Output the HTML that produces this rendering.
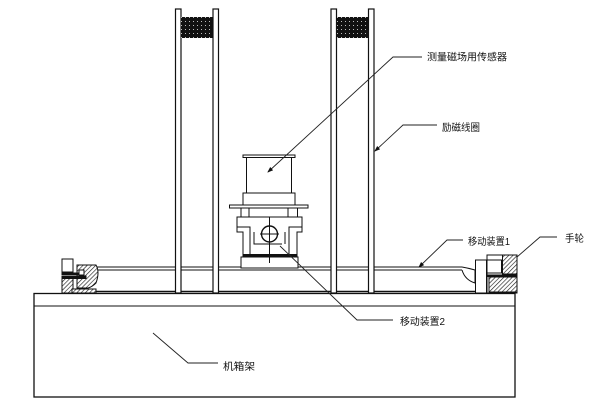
<!DOCTYPE html>
<html><head><meta charset="utf-8"><style>
html,body{margin:0;padding:0;background:#fff;}
svg{display:block;}
text{font-family:"Liberation Sans","Noto Sans CJK SC",sans-serif;fill:#111;}
</style></head><body>
<svg width="600" height="406" viewBox="0 0 600 406" xmlns="http://www.w3.org/2000/svg">
<defs>
<pattern id="hatch" width="3" height="3" patternUnits="userSpaceOnUse" patternTransform="rotate(45)">
<rect width="3" height="3" fill="#fff"/><line x1="0" y1="0" x2="0" y2="3" stroke="#222" stroke-width="1.3"/>
</pattern>
<pattern id="dots" width="4" height="4" patternUnits="userSpaceOnUse">
<rect width="4" height="4" fill="#111"/><rect x="1" y="1" width="1" height="1" fill="#bbb"/>
</pattern>
<marker id="ar" markerWidth="6" markerHeight="6" refX="1" refY="3" orient="auto" markerUnits="userSpaceOnUse">
<path d="M0,3 L6,0.8 L6,5.2 Z" fill="#111"/>
</marker>
</defs>
<g fill="none" stroke="#111" stroke-width="1">
<!-- base -->
<rect x="34" y="293.5" width="481" height="103.5" stroke-width="1.3"/>
<line x1="34" y1="306" x2="515" y2="306"/>
<!-- rails -->
<line x1="88" y1="267" x2="462" y2="267"/>
<line x1="88" y1="270" x2="462" y2="270"/>
<line x1="88" y1="291.5" x2="480" y2="291.5" stroke-width="1.5"/>
</g>
<!-- columns -->
<g fill="#fff" stroke="#111" stroke-width="1.2">
<rect x="175.5" y="9" width="5.5" height="284"/>
<rect x="213" y="9" width="5.5" height="284"/>
<rect x="331" y="9" width="5.5" height="284"/>
<rect x="368.5" y="9" width="5.5" height="284"/>
</g>
<rect x="181" y="17" width="32" height="21" fill="url(#dots)"/>
<rect x="336.5" y="17" width="32" height="21" fill="url(#dots)"/>
<!-- device -->
<g fill="#fff" stroke="#111" stroke-width="1">
<rect x="241" y="257" width="57" height="11"/>
<rect x="243" y="254.5" width="54" height="2.5" fill="#111"/>
<path d="M237,217 H302 V232 H297 V254.5 H243 V232 H237 Z"/>
<path d="M243,227 H250 V254.5" />
<path d="M297,227 H289 V254.5" />
<path d="M254,232 V244 H282" />
<path d="M285,232 V244" />
<line x1="237" y1="227" x2="243" y2="227"/>
<line x1="297" y1="227" x2="302" y2="227"/>
<rect x="241" y="208" width="8" height="9"/>
<rect x="288" y="208" width="9.5" height="9"/>
<rect x="229.5" y="205" width="78.5" height="3"/>
<rect x="243" y="193" width="52" height="12"/>
<rect x="246.5" y="157.5" width="45" height="35.5"/>
<rect x="243" y="155" width="52" height="2.5"/>
<circle cx="269.5" cy="234" r="8" stroke-width="1.4"/>
<line x1="260" y1="234" x2="279" y2="234"/>
<line x1="269.5" y1="217" x2="269.5" y2="263"/>
</g>
<!-- left handwheel -->
<g stroke="#111" stroke-width="1">
<path d="M77,265 H96 Q100,272 96,283 Q92,287 88,288 H77 Z" fill="url(#hatch)"/>
<rect x="62" y="259" width="11" height="13" fill="#fff"/>
<rect x="62" y="273" width="20" height="1.5" fill="#111"/>
<rect x="62" y="276" width="24" height="2.5" fill="#111"/>
<rect x="62" y="278.5" width="11" height="14.5" fill="url(#hatch)"/>
<rect x="72" y="289" width="24" height="4" fill="url(#hatch)"/>
<rect x="79" y="270" width="5" height="5" fill="#fff"/>
</g>
<!-- right handwheel -->
<g stroke="#111" stroke-width="1">
<path d="M462,267 Q468,268 475,270 V283 Q465,280 462,270" fill="#fff"/>
<rect x="475.5" y="260" width="11" height="33" fill="#fff"/>
<rect x="487" y="255" width="30" height="38" fill="#fff"/>
<rect x="487" y="260" width="14.5" height="13" fill="#fff"/>
<rect x="502.5" y="255" width="14.5" height="19" fill="url(#hatch)"/>
<rect x="487" y="275" width="30" height="1.5" fill="#111"/>
<rect x="489" y="277" width="28" height="15" fill="url(#hatch)"/>
</g>
<!-- leaders -->
<g fill="none" stroke="#222" stroke-width="0.9">
<polyline points="268,172 393,57 422,57" marker-start="url(#ar)"/>
<polyline points="375,151 403,125 437,125" marker-start="url(#ar)"/>
<polyline points="419,267 447,240 463,240" marker-start="url(#ar)"/>
<polyline points="517,257 540,237 557,237"/>
<polyline points="280,246 357,320 393,320"/>
<polyline points="153,333 188,363 218,363"/>
</g>
<g font-size="10">
<text x="427" y="60.5" textLength="80" lengthAdjust="spacingAndGlyphs">测量磁场用传感器</text>
<text x="442" y="131" textLength="38" lengthAdjust="spacingAndGlyphs">励磁线圈</text>
<text x="468" y="245" textLength="42" lengthAdjust="spacingAndGlyphs">移动装置1</text>
<text x="565" y="242" textLength="19" lengthAdjust="spacingAndGlyphs">手轮</text>
<text x="400" y="325" textLength="45" lengthAdjust="spacingAndGlyphs">移动装置2</text>
<text x="223" y="370" textLength="32" lengthAdjust="spacingAndGlyphs">机箱架</text>
</g>
</svg>
</body></html>
